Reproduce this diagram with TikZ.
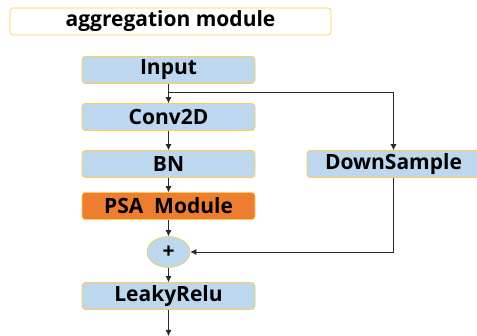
\documentclass[tikz,border=0pt]{standalone}
\usepackage{fontspec}
\setmainfont{Open Sans}
\usetikzlibrary{positioning,shapes.geometric,arrows.meta,calc}
\definecolor{boxblue}{RGB}{189,215,238}
\definecolor{boxgold}{RGB}{255,205,70}
\definecolor{psaorange}{RGB}{237,125,49}
\definecolor{linegray}{RGB}{40,40,40}

\begin{document}
\begin{tikzpicture}[x=1pt, y=1pt, node distance={47pt}, semithick,
    main/.style = {draw=boxgold, fill=boxblue, rounded corners=3pt, minimum width=173pt, minimum height=27pt, inner sep=0pt, font=\fontsize{21}{24}\selectfont\bfseries},
    arr/.style = {draw=linegray, line width=0.8pt, -{Latex[length=6pt,width=6pt]}}]
    \useasboundingbox (0,0) rectangle (477,-336);
    \node[main, fill=white, draw=boxgold, minimum width=321pt] (title) at (170.5,-21.5) {aggregation module};
    \node[main] (input) at (168.5,-70) {Input};
    \node[main] (conv) [below of=input] {Conv2D};
    \node[main] (bn) [below of=conv] {BN};
    \node[main, fill=psaorange] (psa) [below of=bn, node distance=42pt] {PSA\ \ Module};
    \node[main, ellipse, minimum width=43pt, minimum height=31pt] (plus) [below of=psa, node distance=46pt] {+};
    \node[main] (relu) [below of=plus, node distance=44pt] {LeakyRelu};
    \node[main] (down) at (393.5,-164) {DownSample};
    \coordinate (split) at ($(input.south)!0.45!(conv.north)$);
    \coordinate (out) at (168.5,-336);
    \draw[arr] (input) -- (conv);
    \draw[arr] (conv) -- (bn);
    \draw[arr] (bn) -- (psa);
    \draw[arr] (psa) -- (plus);
    \draw[arr] (plus) -- (relu);
    \draw[arr] (relu) -- (out);
    \draw[arr] (split) -| (down);
    \draw[arr] (down) |- (plus);
\end{tikzpicture}
\end{document}
